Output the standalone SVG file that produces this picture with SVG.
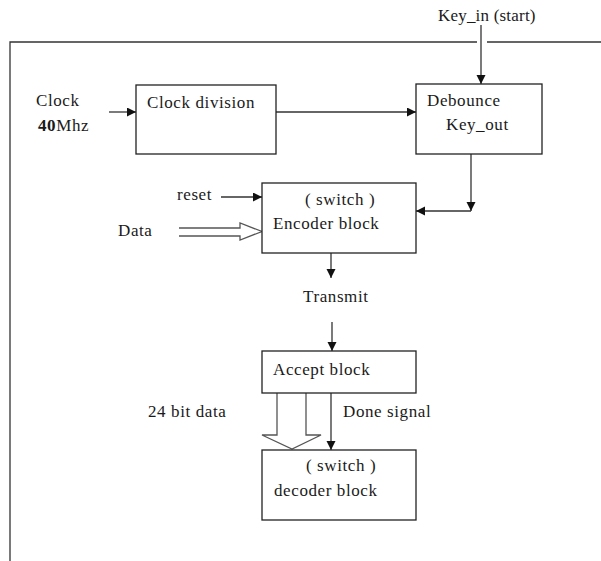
<svg xmlns="http://www.w3.org/2000/svg" width="601" height="561" viewBox="0 0 601 561">
<defs>
<marker id="ah" markerWidth="10" markerHeight="10" refX="9" refY="4.5" orient="auto" markerUnits="userSpaceOnUse">
<path d="M0,0 L9,4.5 L0,9 Z" fill="#111"/>
</marker>
</defs>
<style>
.box{fill:#fff;stroke:#222;stroke-width:1.3}
.ln{fill:none;stroke:#333;stroke-width:1.3}
.hol{fill:none;stroke:#555;stroke-width:1.3}
</style>
<rect width="601" height="561" fill="#fff"/>
<g id="frame">
<path class="ln" d="M10,561 L10,42 L477,42 M487,42 L601,42" stroke="#111" stroke-width="1.5"/>
</g>
<g id="connectors">
<line class="ln" x1="481" y1="25" x2="481" y2="84" marker-end="url(#ah)"/>
<line class="ln" x1="109" y1="112" x2="136" y2="112" marker-end="url(#ah)"/>
<line class="ln" x1="276" y1="112" x2="416" y2="112" marker-end="url(#ah)"/>
<line class="ln" x1="471" y1="140" x2="471" y2="211" marker-end="url(#ah)"/>
<line class="ln" x1="471" y1="211" x2="416" y2="211" marker-end="url(#ah)"/>
<line class="ln" x1="221" y1="197" x2="262" y2="197" marker-end="url(#ah)"/>
<path class="hol" d="M179,228 L240,228 L240,223 L262,231.5 L240,240 L240,236 L179,236"/>
<line class="ln" x1="331" y1="253" x2="331" y2="278" marker-end="url(#ah)"/>
<line class="ln" x1="332" y1="322" x2="332" y2="351" marker-end="url(#ah)"/>
<path class="hol" d="M277,393 L277,435 L262,435 L292,449 L321,435 L306,435 L306,393"/>
<line class="ln" x1="331" y1="393" x2="331" y2="450" marker-end="url(#ah)"/>
</g>
<g id="labels" font-family="Liberation Serif, serif" font-size="17" letter-spacing="0.6" fill="#1a1a1a">
<text x="438" y="21" letter-spacing="0.2">Key_in (start)</text>
<text x="36" y="106">Clock</text>
<text x="38" y="131"><tspan font-weight="bold">40</tspan>Mhz</text>
<text x="177" y="200">reset</text>
<text x="118" y="236">Data</text>
<text x="303" y="302">Transmit</text>
<text x="148" y="417">24 bit data</text>
<text x="343" y="417">Done signal</text>
</g>
<g id="clock-division" font-family="Liberation Serif, serif" font-size="17" letter-spacing="0.6" fill="#1a1a1a">
<rect class="box" x="136" y="85" width="140" height="69"/>
<text x="147" y="108">Clock division</text>
</g>
<g id="debounce" font-family="Liberation Serif, serif" font-size="17" letter-spacing="0.6" fill="#1a1a1a">
<rect class="box" x="416" y="84" width="126" height="70"/>
<text x="427" y="106">Debounce</text>
<text x="446" y="130">Key_out</text>
</g>
<g id="encoder" font-family="Liberation Serif, serif" font-size="17" letter-spacing="0.6" fill="#1a1a1a">
<rect class="box" x="262" y="183" width="154" height="70"/>
<text x="305" y="205">( switch )</text>
<text x="273" y="229">Encoder block</text>
</g>
<g id="accept" font-family="Liberation Serif, serif" font-size="17" letter-spacing="0.6" fill="#1a1a1a">
<rect class="box" x="262" y="351" width="154" height="42"/>
<text x="273" y="375">Accept block</text>
</g>
<g id="decoder" font-family="Liberation Serif, serif" font-size="17" letter-spacing="0.6" fill="#1a1a1a">
<rect class="box" x="262" y="450" width="154" height="70"/>
<text x="306" y="471">( switch )</text>
<text x="274" y="496">decoder block</text>
</g>
</svg>
